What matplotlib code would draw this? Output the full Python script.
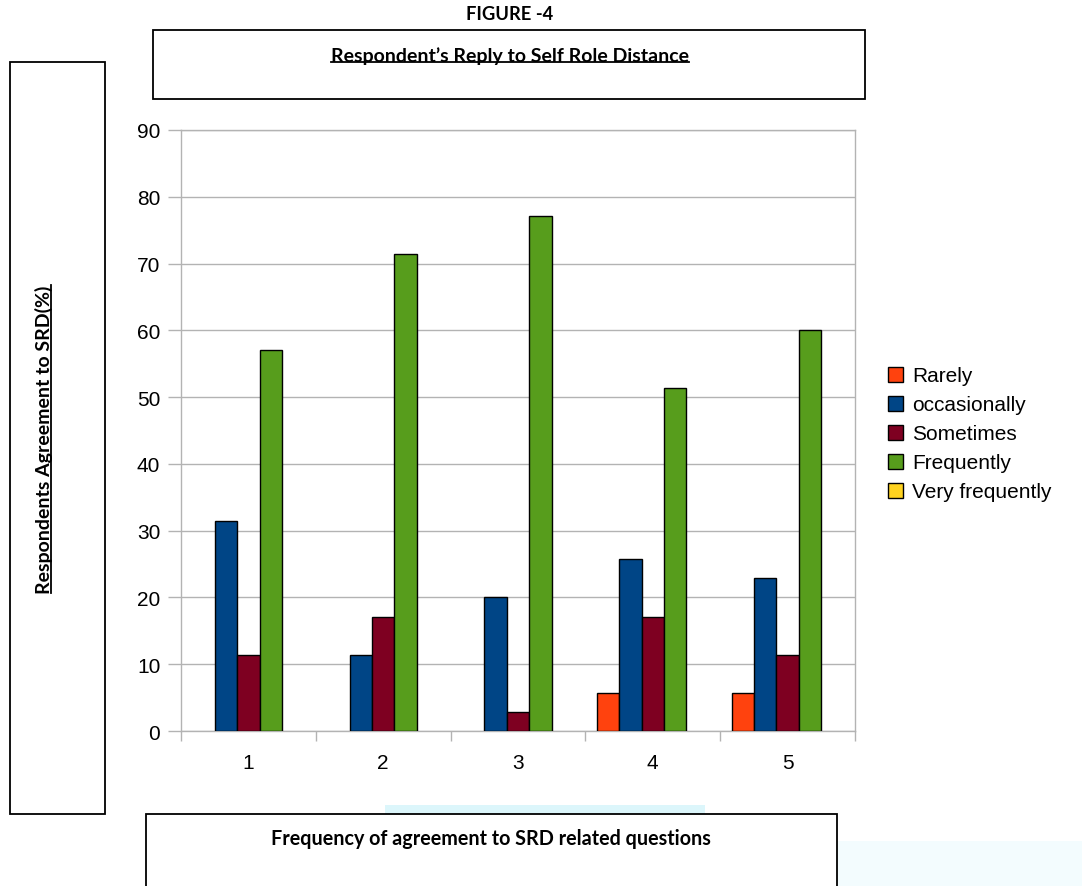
import numpy as np
import matplotlib
matplotlib.use("Agg")
import matplotlib.pyplot as plt
from matplotlib.patches import Rectangle
from matplotlib.lines import Line2D

W, H = 1082, 887

questions = ["1", "2", "3", "4", "5"]
series = ["Rarely", "occasionally", "Sometimes", "Frequently", "Very frequently"]
rarely = [0, 0, 0, 5.7, 5.7]
occasionally = [31.4, 11.4, 20.0, 25.7, 22.9]
sometimes = [11.4, 17.1, 2.9, 17.1, 11.4]
frequently = [57.1, 71.4, 77.1, 51.4, 60.0]
very_frequently = [0, 0, 0, 0, 0]
values = [rarely, occasionally, sometimes, frequently, very_frequently]
colors = ["#ff420e", "#004586", "#7e0021", "#579d1c", "#ffd320"]

label_font = "Liberation Sans"
box_font = "Lato"


def fx(x):
    return x / W


def fy(y):
    return 1 - y / H


fig = plt.figure(figsize=(W / 100, H / 100), dpi=100)

ax = fig.add_axes([fx(181), fy(732), fx(855) - fx(181), fy(131) - fy(732)])
x = np.arange(1, len(questions) + 1)
bw = 0.166
for i, (name, vals, c) in enumerate(zip(series, values, colors)):
    bars = ax.bar(x + (i - 2) * bw, vals, width=bw, color=c, edgecolor="black",
                  linewidth=1, label=name, zorder=3)
    for b in bars:
        if b.get_height() == 0:
            b.set_visible(False)

ax.set_xlim(0.5, 5.5)
ax.set_ylim(0, 90)
ax.set_yticks(np.arange(0, 91, 10))
ax.set_xticks(x)
ax.set_xticklabels(questions)
ax.set_xticks(np.arange(0.5, 5.6, 1), minor=True)
ax.tick_params(axis="x", which="major", length=0, pad=16, labelsize=15)
ax.tick_params(axis="x", which="minor", length=7.2, color="#b3b3b3", width=1)
ax.tick_params(axis="y", length=9.4, color="#b3b3b3", width=1, pad=5.5, labelsize=15)
for lab in ax.get_xticklabels() + ax.get_yticklabels():
    lab.set_fontfamily(label_font)
ax.grid(axis="y", color="#b3b3b3", linewidth=1, zorder=0)
for s in ax.spines.values():
    s.set_color("#b3b3b3")
    s.set_linewidth(1)

leg = ax.legend(loc="center left", bbox_to_anchor=(fx(888), fy(435)),
                bbox_transform=fig.transFigure, frameon=False,
                prop={"family": label_font, "size": 15},
                handlelength=0.72, handleheight=0.72, handletextpad=0.45,
                labelspacing=0.48, borderpad=0, borderaxespad=0)
for h in leg.legend_handles:
    # handles copy the first bar of each series, which may be a hidden zero bar
    h.set_visible(True)
    h.set_edgecolor("black")
    h.set_linewidth(1)

# faint cyan patches behind the bottom box
fig.patches.append(Rectangle((fx(385), fy(815)), fx(705) - fx(385), fy(806) - fy(815),
                             transform=fig.transFigure, facecolor="#dcf6fb",
                             edgecolor="none", zorder=0))
fig.patches.append(Rectangle((fx(838), 0), 1 - fx(838), fy(842),
                             transform=fig.transFigure, facecolor="#f3fcfe",
                             edgecolor="none", zorder=0))

# framed boxes around title and axis captions
for (x0, y0, x1, y1) in [(153, 31, 865, 100), (10, 63, 105, 815), (146, 815, 837, 900)]:
    fig.patches.append(Rectangle((fx(x0), fy(y1)), fx(x1) - fx(x0), fy(y0) - fy(y1),
                                 transform=fig.transFigure, facecolor="white",
                                 edgecolor="black", linewidth=1.3, zorder=1))

fig.text(fx(510), fy(14), "FIGURE -4", ha="center", va="center",
         family=box_font, weight="bold", fontsize=13.2)
t_title = fig.text(fx(510), fy(56), "Respondent\u2019s Reply to Self Role Distance",
                   ha="center", va="center", family=box_font, weight="bold", fontsize=14)
t_y = fig.text(fx(44), fy(440), "Respondents Agreement to SRD(%)", ha="center",
               va="center", rotation=90, family=box_font, weight="bold", fontsize=14)
fig.text(fx(491), fy(839), "Frequency of agreement to SRD related questions",
         ha="center", va="center", family=box_font, weight="bold", fontsize=14.2)

# underline the two captions
r = fig.canvas.get_renderer()
bb = t_title.get_window_extent(r)
yl = bb.y0 + 2
fig.lines.append(Line2D([bb.x0 / W, bb.x1 / W], [yl / H, yl / H],
                        transform=fig.transFigure, color="black", linewidth=1.3))
bb = t_y.get_window_extent(r)
xl = bb.x1 - 2
fig.lines.append(Line2D([xl / W, xl / W], [bb.y0 / H, bb.y1 / H],
                        transform=fig.transFigure, color="black", linewidth=1.3))

fig.savefig("out.png", dpi=100)
